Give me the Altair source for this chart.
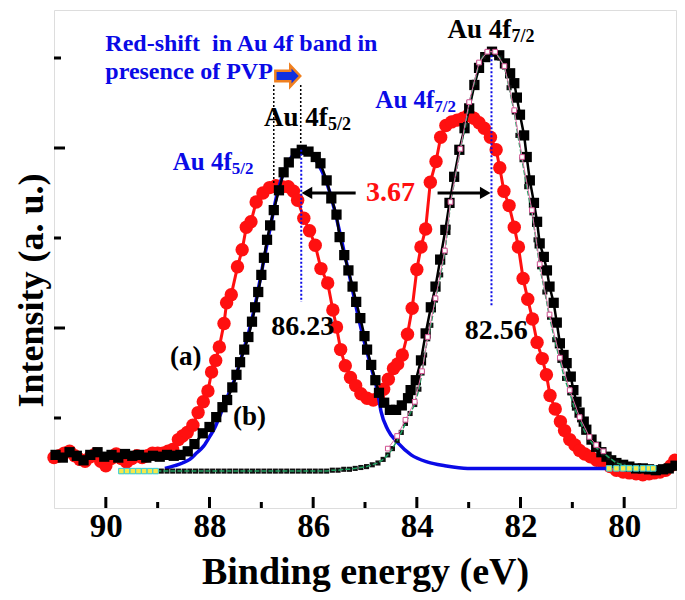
import altair as alt
import pandas as pd

# ---------------- data (binding energy in eV, intensity in a.u.) ----------------
red_E = [91.00, 90.90, 90.80, 90.70, 90.60, 90.50, 90.40, 90.30, 90.20, 90.10, 90.00, 89.90, 89.80,
         89.70, 89.60, 89.50, 89.40, 89.30, 89.20, 89.10, 89.00, 88.90, 88.80, 88.71, 88.60, 88.52,
         88.43, 88.32, 88.22, 88.12, 88.03, 87.96, 87.88, 87.81, 87.72, 87.67, 87.58, 87.46, 87.37,
         87.29, 87.20, 87.10, 86.97, 86.84, 86.72, 86.60, 86.48, 86.38, 86.30, 86.18, 86.07, 85.96,
         85.85, 85.72, 85.62, 85.55, 85.47, 85.38, 85.28, 85.18, 85.08, 84.96, 84.84, 84.74, 84.64,
         84.55, 84.45, 84.37, 84.28, 84.18, 84.09, 84.00, 83.92, 83.83, 83.74, 83.63, 83.54, 83.44,
         83.33, 83.22, 83.11, 83.00, 82.90, 82.80, 82.70, 82.58, 82.47, 82.40, 82.32, 82.22, 82.12,
         82.04, 81.95, 81.86, 81.77, 81.68, 81.58, 81.50, 81.43, 81.33, 81.23, 81.15, 81.05, 80.95,
         80.86, 80.76, 80.65, 80.53, 80.40, 80.27, 80.15, 80.02, 79.90, 79.77, 79.64, 79.52, 79.42,
         79.31, 79.20, 79.10, 79.02]
red_I = [0.56, 0.58, 0.61, 0.63, 0.58, 0.54, 0.52, 0.57, 0.60, 0.52, 0.47, 0.55, 0.60,
         0.55, 0.51, 0.55, 0.58, 0.56, 0.58, 0.61, 0.61, 0.61, 0.63, 0.65, 0.76, 0.80,
         0.84, 0.92, 1.06, 1.18, 1.30, 1.51, 1.64, 1.79, 2.05, 2.28, 2.37, 2.68, 2.87,
         3.12, 3.18, 3.40, 3.50, 3.56, 3.58, 3.57, 3.57, 3.52, 3.42, 3.22, 3.08, 2.92,
         2.66, 2.50, 2.20, 2.01, 1.76, 1.58, 1.45, 1.36, 1.27, 1.22, 1.20, 1.22, 1.32,
         1.43, 1.55, 1.60, 1.70, 1.93, 2.22, 2.65, 2.90, 3.10, 3.62, 3.85, 4.12, 4.25,
         4.29, 4.31, 4.33, 4.37, 4.33, 4.28, 4.22, 4.12, 3.98, 3.78, 3.52, 3.36, 3.12,
         2.90, 2.55, 2.32, 2.10, 1.84, 1.66, 1.48, 1.25, 1.10, 0.96, 0.86, 0.76, 0.70,
         0.64, 0.60, 0.57, 0.53, 0.50, 0.46, 0.42, 0.40, 0.39, 0.38, 0.37, 0.38, 0.39,
         0.40, 0.42, 0.47, 0.53]

black_E = [90.97, 90.83, 90.70, 90.56, 90.43, 90.30, 90.16, 90.03, 89.89, 89.76, 89.63, 89.49, 89.36,
           89.22, 89.09, 88.96, 88.82, 88.69, 88.56, 88.42, 88.29, 88.13, 88.00, 87.87, 87.75, 87.66,
           87.56, 87.48, 87.41, 87.33, 87.25, 87.18, 87.12, 87.06, 87.00, 86.95, 86.89, 86.83, 86.76,
           86.66, 86.57, 86.47, 86.34, 86.22, 86.09, 85.95, 85.86, 85.74, 85.65, 85.55, 85.49, 85.40,
           85.32, 85.24, 85.17, 85.09, 85.01, 84.96, 84.88, 84.80, 84.73, 84.63, 84.52, 84.40, 84.29,
           84.17, 84.12, 84.02, 83.92, 83.83, 83.73, 83.64, 83.55, 83.45, 83.37, 83.28, 83.18, 83.08,
           82.99, 82.89, 82.80, 82.68, 82.55, 82.41, 82.30, 82.20, 82.12, 82.07, 82.01, 81.93, 81.88,
           81.82, 81.74, 81.68, 81.63, 81.55, 81.49, 81.44, 81.36, 81.30, 81.24, 81.17, 81.11, 81.03,
           80.98, 80.92, 80.86, 80.78, 80.73, 80.63, 80.54, 80.44, 80.34, 80.25, 80.15, 80.02, 79.90,
           79.77, 79.64, 79.52, 79.39, 79.25, 79.14, 79.01]
black_I = [0.59, 0.56, 0.62, 0.58, 0.53, 0.59, 0.62, 0.57, 0.59, 0.56, 0.60, 0.58, 0.59,
           0.56, 0.58, 0.57, 0.59, 0.58, 0.59, 0.63, 0.71, 0.83, 0.90, 1.01, 1.12, 1.20,
           1.34, 1.48, 1.62, 1.76, 1.90, 2.07, 2.23, 2.40, 2.59, 2.78, 2.98, 3.14, 3.31,
           3.53, 3.73, 3.84, 3.94, 3.98, 3.96, 3.90, 3.83, 3.64, 3.44, 3.26, 3.01, 2.81,
           2.64, 2.46, 2.29, 2.11, 1.91, 1.76, 1.59, 1.42, 1.28, 1.17, 1.09, 1.09, 1.14,
           1.22, 1.31, 1.42, 1.64, 1.94, 2.23, 2.46, 2.76, 3.09, 3.39, 3.68, 3.98, 4.22,
           4.44, 4.70, 4.89, 5.01, 5.07, 5.03, 4.94, 4.83, 4.72, 4.56, 4.37, 4.14, 3.90,
           3.64, 3.39, 3.18, 2.94, 2.79, 2.64, 2.46, 2.28, 2.06, 1.83, 1.70, 1.61, 1.46,
           1.31, 1.18, 1.06, 0.96, 0.87, 0.76, 0.68, 0.62, 0.57, 0.53, 0.50, 0.48, 0.46,
           0.44, 0.44, 0.43, 0.42, 0.43, 0.44, 0.47]

# fitted Au 4f5/2 component (blue line)
blue_E = [88.86, 88.67, 88.52, 88.38, 88.25, 88.11, 88.00, 87.90, 87.81, 87.68, 87.52, 87.37, 87.23,
          87.10, 86.97, 86.83, 86.70, 86.57, 86.43, 86.32, 86.22, 86.09, 85.95, 85.82, 85.68, 85.55,
          85.42, 85.28, 85.15, 85.01, 84.88, 84.76, 84.69, 84.56, 84.36, 84.11, 83.79, 83.46, 83.02,
          82.45, 81.49, 80.29]
blue_I = [0.44, 0.47, 0.50, 0.54, 0.61, 0.69, 0.79, 0.89, 1.01, 1.20, 1.42, 1.70, 1.98,
          2.31, 2.70, 3.11, 3.48, 3.73, 3.89, 3.96, 3.98, 3.96, 3.87, 3.73, 3.51, 3.22,
          2.89, 2.53, 2.18, 1.84, 1.56, 1.30, 1.07, 0.87, 0.72, 0.59, 0.51, 0.47, 0.44,
          0.44, 0.44, 0.44]

# fitted Au 4f7/2 component (green dashed line, small squares)
green_E = [89.70, 89.59, 89.48, 89.37, 89.26, 89.15, 89.04, 88.93, 88.82, 88.71, 88.60, 88.49, 88.38,
           88.27, 88.16, 88.05, 87.94, 87.83, 87.72, 87.61, 87.50, 87.39, 87.28, 87.17, 87.06, 86.95,
           86.84, 86.73, 86.62, 86.51, 86.40, 86.29, 86.18, 86.07, 85.96, 85.85, 85.74, 85.63, 85.52,
           85.41, 85.30, 85.19, 85.08, 84.97, 84.86, 84.75, 84.65, 84.56, 84.47, 84.38, 84.30, 84.22,
           84.13, 84.04, 83.96, 83.90, 83.85, 83.79, 83.73, 83.64, 83.54, 83.46, 83.40, 83.35, 83.25,
           83.16, 83.06, 82.99, 82.89, 82.80, 82.72, 82.64, 82.56, 82.49, 82.40, 82.31, 82.22, 82.12,
           82.05, 81.97, 81.88, 81.78, 81.70, 81.63, 81.53, 81.44, 81.34, 81.24, 81.15, 81.05, 80.96,
           80.86, 80.77, 80.67, 80.54, 80.40, 80.29, 80.15, 80.02, 79.90, 79.77, 79.64, 79.52, 79.44]
green_I = [0.41, 0.41, 0.41, 0.41, 0.41, 0.41, 0.41, 0.41, 0.41, 0.41, 0.41, 0.41, 0.41,
           0.41, 0.41, 0.41, 0.41, 0.41, 0.41, 0.41, 0.41, 0.41, 0.41, 0.41, 0.41, 0.41,
           0.41, 0.41, 0.41, 0.41, 0.41, 0.41, 0.41, 0.41, 0.41, 0.41, 0.41, 0.42, 0.42,
           0.43, 0.43, 0.44, 0.45, 0.46, 0.48, 0.50, 0.54, 0.59, 0.66, 0.75, 0.84, 0.94,
           1.05, 1.15, 1.32, 1.50, 1.70, 1.88, 2.03, 2.31, 2.59, 2.84, 3.12, 3.39, 3.70,
           3.98, 4.26, 4.50, 4.73, 4.94, 5.02, 5.06, 5.07, 5.06, 5.00, 4.90, 4.67, 4.40,
           4.14, 3.87, 3.57, 3.28, 2.98, 2.68, 2.40, 2.12, 1.87, 1.64, 1.44, 1.28, 1.11,
           0.98, 0.86, 0.76, 0.67, 0.61, 0.56, 0.50, 0.48, 0.46, 0.45, 0.44, 0.44, 0.44]

# envelope (thin pink line, open squares)
pink_E = [84.56, 84.38, 84.22, 84.04, 83.90, 83.79, 83.64, 83.46, 83.35, 83.16, 82.99, 82.80, 82.64,
          82.49, 82.31, 82.12, 81.97, 81.78, 81.63, 81.44, 81.24, 81.05, 80.86, 80.67, 80.54, 80.40]
pink_I = [0.66, 0.80, 0.98, 1.18, 1.52, 1.90, 2.33, 2.86, 3.40, 3.99, 4.51, 4.95, 5.07,
          5.07, 4.91, 4.42, 3.90, 3.31, 2.71, 2.15, 1.67, 1.31, 1.01, 0.79, 0.70, 0.63]

# background end points (yellow squares)
bg_E = [89.70, 89.59, 89.48, 89.37, 89.26, 89.15, 89.04,
        80.29, 80.15, 80.02, 79.90, 79.77, 79.64, 79.52, 79.44]
bg_I = [0.41, 0.41, 0.41, 0.41, 0.41, 0.41, 0.41,
        0.44, 0.44, 0.44, 0.44, 0.44, 0.44, 0.44, 0.44]

x_major = [90, 88, 86, 84, 82, 80]
x_minor = [89, 87, 85, 83, 81]
y_major = [2, 4]
y_minor = [1, 3, 5]

peak_E = [86.23, 82.56]
peak_top = [3.98, 5.03]
peak_bottom = [2.29, 2.23]
shift_E = [86.76, 86.24]
shift_top = [4.70, 4.70]
shift_bottom = [3.59, 4.00]

# ---------------- styling ----------------
FONT = "Liberation Serif"
BLUE = "#0a0ae6"
RED = "#ff1010"
PW, PH = 622, 498

xs = alt.Scale(domain=[79, 91], reverse=True, nice=False, zero=False)
ys = alt.Scale(domain=[0, 5.5333], nice=False, zero=False)

x_axis = alt.Axis(values=x_major, format="d", ticks=False, domain=False, grid=False,
                  labelFont=FONT, labelFontWeight="bold", labelFontSize=33, labelColor="black",
                  labelPadding=2, title="Binding energy (eV)", titleFont=FONT,
                  titleFontWeight="bold", titleFontSize=38, titleColor="black",
                  titleBaseline="alphabetic", titleY=75)
y_axis = alt.Axis(values=y_major + y_minor, labels=False, ticks=False, domain=False, grid=False,
                  title="Intensity (a. u.)", titleFont=FONT, titleFontWeight="bold",
                  titleFontSize=36, titleColor="black", titleAngle=270, titleAlign="center",
                  titleBaseline="middle", titleX=-23, titleY=280)


def X(f="E"):
    return alt.X(f"{f}:Q", scale=xs, axis=x_axis)


def Y(f="I"):
    return alt.Y(f"{f}:Q", scale=ys, axis=y_axis)


def df(E, I):
    return pd.DataFrame({"E": E, "I": I})


red = df(red_E, red_I)
black = df(black_E, black_I)
blue = df(blue_E, blue_I)
green = df(green_E, green_I)
pink = df(pink_E, pink_I)
bgd = df(bg_E, bg_I)

layers = []

# red data (a)
layers.append(alt.Chart(red).mark_line(color=RED, strokeWidth=3).encode(x=X(), y=Y()))
layers.append(alt.Chart(red).mark_circle(color=RED, size=180, opacity=1).encode(x=X(), y=Y()))
# blue component (under the black squares)
layers.append(alt.Chart(blue).mark_line(color=BLUE, strokeWidth=3.5, interpolate="monotone").encode(x=X(), y=Y()))
# black data (b)
layers.append(alt.Chart(black).mark_line(color="black", strokeWidth=2.5).encode(x=X(), y=Y()))
layers.append(alt.Chart(black).mark_square(color="black", size=105, opacity=1).encode(x=X(), y=Y()))
# green component
layers.append(alt.Chart(green).mark_square(color="#111", size=26, opacity=1).encode(x=X(), y=Y()))
layers.append(alt.Chart(green).mark_line(color="#1fa060", strokeWidth=1.5, strokeDash=[5, 2]).encode(x=X(), y=Y()))
# envelope
layers.append(alt.Chart(pink).mark_line(color="#e070a8", strokeWidth=1).encode(x=X(), y=Y()))
layers.append(alt.Chart(pink).mark_point(shape="square", size=22, fill="white", stroke="#d05090",
                                         strokeWidth=1, opacity=1, filled=False).encode(x=X(), y=Y()))
# background end squares
layers.append(alt.Chart(bgd).mark_point(shape="square", size=30, fill="#f5e94a", stroke="#37d0e0",
                                        strokeWidth=1, opacity=1).encode(x=X(), y=Y()))

# dotted guide lines
layers.append(alt.Chart(pd.DataFrame({"E": peak_E, "I": peak_top, "I2": peak_bottom}))
              .mark_rule(color=BLUE, strokeWidth=2, strokeDash=[2, 2])
              .encode(x=X(), y=Y(), y2="I2:Q"))
layers.append(alt.Chart(pd.DataFrame({"E": shift_E, "I": shift_top, "I2": shift_bottom}))
              .mark_rule(color="black", strokeWidth=1.5, strokeDash=[2, 2])
              .encode(x=X(), y=Y(), y2="I2:Q"))

# 3.67 arrows
layers.append(alt.Chart(pd.DataFrame({"E": [85.18, 83.60], "E2": [86.10, 82.70], "I": [3.5, 3.5]}))
              .mark_rule(color="black", strokeWidth=3).encode(x=X(), x2="E2:Q", y=Y()))
layers.append(alt.Chart(pd.DataFrame({"E": [86.12], "I": [3.5]}))
              .mark_point(shape="triangle-left", size=150, filled=True, color="black", opacity=1)
              .encode(x=X(), y=Y()))
layers.append(alt.Chart(pd.DataFrame({"E": [82.68], "I": [3.5]}))
              .mark_point(shape="triangle-right", size=150, filled=True, color="black", opacity=1)
              .encode(x=X(), y=Y()))

# block arrow (red-shift)
layers.append(alt.Chart(pd.DataFrame({"E": [86.49], "I": [4.80]}))
              .mark_point(shape="M -1 -0.42 L 0.2 -0.42 L 0.2 -0.85 L 1 0 L 0.2 0.85 L 0.2 0.42 L -1 0.42 Z",
                          size=620, fill="#1030e0", stroke="#f08020", strokeWidth=2.5, opacity=1, filled=True)
              .encode(x=X(), y=Y()))

# inner tick marks
layers.append(alt.Chart(pd.DataFrame({"E": x_major})).mark_rule(color="black", strokeWidth=3)
              .encode(x=X(), y=alt.value(PH), y2=alt.value(PH - 11)))
layers.append(alt.Chart(pd.DataFrame({"E": x_minor})).mark_rule(color="black", strokeWidth=3)
              .encode(x=X(), y=alt.value(PH), y2=alt.value(PH - 6)))
layers.append(alt.Chart(pd.DataFrame({"I": y_major})).mark_rule(color="black", strokeWidth=3)
              .encode(y=Y(), x=alt.value(0), x2=alt.value(11)))
layers.append(alt.Chart(pd.DataFrame({"I": y_minor})).mark_rule(color="black", strokeWidth=3)
              .encode(y=Y(), x=alt.value(0), x2=alt.value(7)))


def txt(E, I, texts, color, size, align="left", dx=0, dy=0):
    d = pd.DataFrame({"E": E, "I": I, "t": texts})
    return alt.Chart(d).mark_text(font=FONT, fontWeight="bold", fontSize=size, color=color,
                                  align=align, baseline="middle", dx=dx, dy=dy).encode(
        x=X(), y=Y(), text="t:N")


layers.append(txt([90.01, 90.01], [5.16, 4.84],
                  ["Red-shift\u00a0 in Au 4f band in", "presence of PVP"], BLUE, 24))
# black labels
layers.append(txt([86.95, 83.41], [4.33, 5.31], ["Au 4f", "Au 4f"], "black", 27))
layers.append(txt([86.95], [4.33], ["5/2"], "black", 18, dx=64, dy=7))
layers.append(txt([83.41], [5.31], ["7/2"], "black", 18, dx=64, dy=7))
# blue labels
layers.append(txt([88.71, 84.80], [3.84, 4.53], ["Au 4f", "Au 4f"], BLUE, 25))
layers.append(txt([88.71], [3.84], ["5/2"], BLUE, 17, dx=59, dy=7))
layers.append(txt([84.80], [4.53], ["7/2"], BLUE, 17, dx=59, dy=7))
# numbers
layers.append(txt([86.20, 82.47], [2.01, 1.97], ["86.23", "82.56"], "black", 28, align="center"))
layers.append(txt([84.51], [3.50], ["3.67"], RED, 28, align="center"))
layers.append(txt([88.46, 87.23], [1.68, 1.01], ["(a)", "(b)"], "black", 27, align="center"))

chart = alt.layer(*layers).properties(
    width=PW, height=PH,
    padding={"left": 46, "top": 2, "right": 1, "bottom": 84},
    autosize=alt.AutoSizeParams(type="none"),
).configure_view(stroke="black", strokeWidth=3).configure(background="white")

chart.save("out.html", embed_options={"renderer": "svg", "actions": False})
